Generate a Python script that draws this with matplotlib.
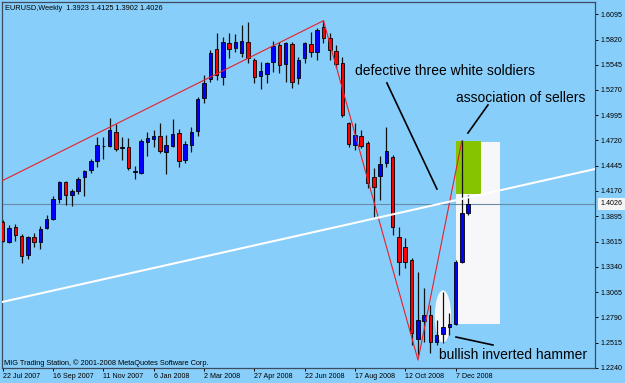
import matplotlib
matplotlib.use("Agg")
import matplotlib.pyplot as plt
import matplotlib.transforms as mtransforms
from matplotlib.patches import Rectangle, Ellipse
import numpy as np

plt.rcParams['font.family'] = ['Liberation Sans', 'DejaVu Sans']

# ---------------- data ----------------
title_text = "EURUSD,Weekly  1.3923 1.4125 1.3902 1.4026"
copyright_text = "MIG Trading Station, \u00a9 2001-2008 MetaQuotes Software Corp."

date_label_pos = [0, 8, 16, 24, 32, 40, 48, 56, 64, 72]
date_labels = ["22 Jul 2007", "16 Sep 2007", "11 Nov 2007", "6 Jan 2008", "2 Mar 2008",
               "27 Apr 2008", "22 Jun 2008", "17 Aug 2008", "12 Oct 2008", "7 Dec 2008"]

opens = [1.3833, 1.3608, 1.3778, 1.3677, 1.3466, 1.3663, 1.3615, 1.3761, 1.3859, 1.4080,
         1.4262, 1.4121, 1.4164, 1.4317, 1.4397, 1.4498, 1.4655, 1.4658, 1.4814, 1.4632,
         1.4644, 1.4376, 1.4361, 1.4699, 1.4735, 1.4771, 1.4590, 1.4662, 1.4797, 1.4506,
         1.4666, 1.4825, 1.5179, 1.5384, 1.5713, 1.5408, 1.5785, 1.5724, 1.5678, 1.5793,
         1.5596, 1.5422, 1.5444, 1.5578, 1.5760, 1.5550, 1.5771, 1.5397, 1.5615, 1.5768,
         1.5687, 1.5960, 1.5833, 1.5695, 1.5560, 1.4913, 1.4669, 1.4771, 1.4688, 1.4324,
         1.4331, 1.4476, 1.4542, 1.3662, 1.3560, 1.3415, 1.2550, 1.2753, 1.2815, 1.2524,
         1.2603, 1.2681, 1.2717, 1.3390, 1.3923]
highs = [1.3851, 1.3797, 1.3808, 1.3695, 1.3677, 1.3706, 1.3789, 1.3903, 1.4113, 1.4280,
         1.4280, 1.4193, 1.4317, 1.4397, 1.4513, 1.4753, 1.4753, 1.4961, 1.4898, 1.4760,
         1.4742, 1.4444, 1.4732, 1.4814, 1.4833, 1.4906, 1.4778, 1.4950, 1.4847, 1.4716,
         1.4869, 1.5190, 1.5430, 1.5706, 1.5891, 1.5850, 1.5894, 1.5880, 1.5978, 1.6011,
         1.5618, 1.5578, 1.5578, 1.5804, 1.5796, 1.5796, 1.5796, 1.5633, 1.5796, 1.5899,
         1.5942, 1.6038, 1.5888, 1.5760, 1.5626, 1.4924, 1.4906, 1.4833, 1.4716, 1.4415,
         1.4549, 1.4862, 1.4560, 1.3778, 1.3650, 1.3433, 1.3281, 1.3106, 1.2924, 1.2760,
         1.3069, 1.2837, 1.3415, 1.4720, 1.4125]
lows = [1.3615, 1.3597, 1.3625, 1.3382, 1.3429, 1.3560, 1.3538, 1.3750, 1.3851, 1.4040,
        1.4015, 1.4004, 1.4135, 1.4116, 1.4361, 1.4433, 1.4513, 1.4651, 1.4607, 1.4506,
        1.4397, 1.4295, 1.4353, 1.4549, 1.4650, 1.4579, 1.4353, 1.4651, 1.4433, 1.4470,
        1.4596, 1.4767, 1.5131, 1.5357, 1.5378, 1.5324, 1.5615, 1.5687, 1.5633, 1.5564,
        1.5342, 1.5277, 1.5349, 1.5469, 1.5451, 1.5360, 1.5288, 1.5335, 1.5561, 1.5626,
        1.5596, 1.5779, 1.5600, 1.5506, 1.4978, 1.4651, 1.4615, 1.4633, 1.4197, 1.3887,
        1.4069, 1.4433, 1.3688, 1.3251, 1.3324, 1.2488, 1.2380, 1.2524, 1.2397, 1.2488,
        1.2509, 1.2597, 1.2706, 1.3382, 1.3902]
closes = [1.3625, 1.3767, 1.3688, 1.3462, 1.3663, 1.3611, 1.3756, 1.3859, 1.4084, 1.4262,
          1.4124, 1.4171, 1.4295, 1.4386, 1.4498, 1.4669, 1.4660, 1.4833, 1.4622, 1.4645,
          1.4415, 1.4380, 1.4713, 1.4742, 1.4767, 1.4604, 1.4669, 1.4789, 1.4495, 1.4680,
          1.4814, 1.5174, 1.5349, 1.5670, 1.5430, 1.5793, 1.5720, 1.5796, 1.5804, 1.5618,
          1.5414, 1.5476, 1.5561, 1.5753, 1.5542, 1.5779, 1.5360, 1.5596, 1.5779, 1.5681,
          1.5924, 1.5833, 1.5705, 1.5553, 1.4997, 1.4680, 1.4778, 1.4658, 1.4252, 1.4215,
          1.4462, 1.4607, 1.3775, 1.3396, 1.3396, 1.2615, 1.2760, 1.2815, 1.2524, 1.2597,
          1.2679, 1.2717, 1.3396, 1.3923, 1.4026]

price_ticks = [1.6095, 1.5820, 1.5545, 1.5270, 1.4995, 1.4720, 1.4445, 1.4170, 1.3895,
               1.3615, 1.3340, 1.3065, 1.2790, 1.2515, 1.2240]
bid_price = 1.4026

# drawn objects (week index, price)
red_up_x = [-0.16, 51.0]
red_up_y = [1.4277, 1.6025]
red_v_x = [51.0, 66.03, 73.0]
red_v_y = [1.6025, 1.2324, 1.4713]
white_x = [-0.11, 94.2]
white_y = [1.2957, 1.4408]
green_box = (72.07, 76.04, 1.4135, 1.4713)
white_box = (72.07, 79.06, 1.2717, 1.4702)
hammer_ellipse = (70.0, 1.2799, 2.6, 0.057)

notes = [
    ("defective three white soldiers", 56.0, 1.5477, (61.08, 1.5346), (69.04, 1.4189)),
    ("association of sellers", 72.07, 1.5182, (77.15, 1.5106), (73.97, 1.4800)),
    ("bullish inverted hammer", 69.36, 1.2379, (72.07, 1.2575), (77.95, 1.2488)),
]

# ---------------- figure ----------------
BG = '#87CEFA'
W, H = 625, 383
fig = plt.figure(figsize=(W / 100, H / 100), dpi=100, facecolor=BG)
left_px, right_px, top_px, bottom_px = 1.7, 595.5, 2.0, 368.3
ax = fig.add_axes([left_px / W, 1 - bottom_px / H, (right_px - left_px) / W, (bottom_px - top_px) / H])
ax.set_facecolor(BG)
ax.set_xlim(-0.16, 94.25)
ax.set_ylim(1.2234, 1.6229)

x = np.arange(len(opens))
o = np.array(opens); h = np.array(highs); l = np.array(lows); c = np.array(closes)

# background objects
wx0, wx1, wy0, wy1 = white_box
ax.add_patch(Rectangle((wx0, wy0), wx1 - wx0, wy1 - wy0, facecolor='#f7f7fa', edgecolor='none', zorder=1))
gx0, gx1, gy0, gy1 = green_box
ax.add_patch(Rectangle((gx0, gy0), gx1 - gx0, gy1 - gy0, facecolor='#86c400', edgecolor='none', zorder=1.5))
ex, ey, ew, eh = hammer_ellipse
ax.add_patch(Ellipse((ex, ey), ew, eh, facecolor='#f7f7fa', edgecolor='none', zorder=1.2))

# bid line
ax.axhline(bid_price, color='#6a8aa8', lw=0.8, zorder=2)

# candles
ax.vlines(x, l, h, color='#111111', lw=0.9, zorder=3)
up = c >= o
body_bottom = np.minimum(o, c)
body_h = np.maximum(np.abs(c - o), 0.0008)
colors = np.where(up, '#0000ff', '#ff0000')
ax.bar(x, body_h, bottom=body_bottom, width=0.56, color=colors, edgecolor='black',
       linewidth=0.6, zorder=4)

# trend lines
ax.plot(red_up_x, red_up_y, color='#e8202a', lw=0.8, zorder=5)
ax.plot(red_v_x, red_v_y, color='#e8202a', lw=0.8, zorder=5)
ax.plot(white_x, white_y, color='white', lw=1.5, zorder=5)

# annotations
for txt, tx, ty, p0, p1 in notes:
    ax.text(tx, ty, txt, fontsize=10, color='black', ha='left', va='center', zorder=6)
    ax.plot([p0[0], p1[0]], [p0[1], p1[1]], color='black', lw=1.2, zorder=6)

# axes styling
for s in ax.spines.values():
    s.set_color('#3c4c5c')
    s.set_linewidth(0.9)
ax.yaxis.tick_right()
ax.set_yticks(price_ticks)
ax.set_yticklabels([f"{v:.4f}" for v in price_ticks])
ax.tick_params(axis='y', which='both', direction='out', length=2.2, width=0.7, pad=1.5,
               labelsize=5.1, colors='black', left=False, right=True)
ax.set_xticks(date_label_pos)
ax.set_xticklabels(date_labels)
ax.tick_params(axis='x', direction='out', length=2.2, width=0.7, pad=1.2, labelsize=5.1, colors='black')
for lbl in ax.get_xticklabels():
    lbl.set_ha('left')
    lbl.set_x(-0.3)

# bid label box
trans = mtransforms.blended_transform_factory(ax.transAxes, ax.transData)
ax.text(1.008, bid_price, f"{bid_price:.4f}", transform=trans, fontsize=5.1, ha='left', va='center',
        color='black', bbox=dict(boxstyle='square,pad=0.35', facecolor='#f4f4f4', edgecolor='none'),
        clip_on=False, zorder=7)

fig.text(5 / W, 1 - 8 / H, title_text, fontsize=5.3, ha='left', va='center', color='black')
fig.text(4 / W, 1 - 363.3 / H, copyright_text, fontsize=5.3, ha='left', va='center', color='black')

fig.savefig('out.png', dpi=100, facecolor=BG)
